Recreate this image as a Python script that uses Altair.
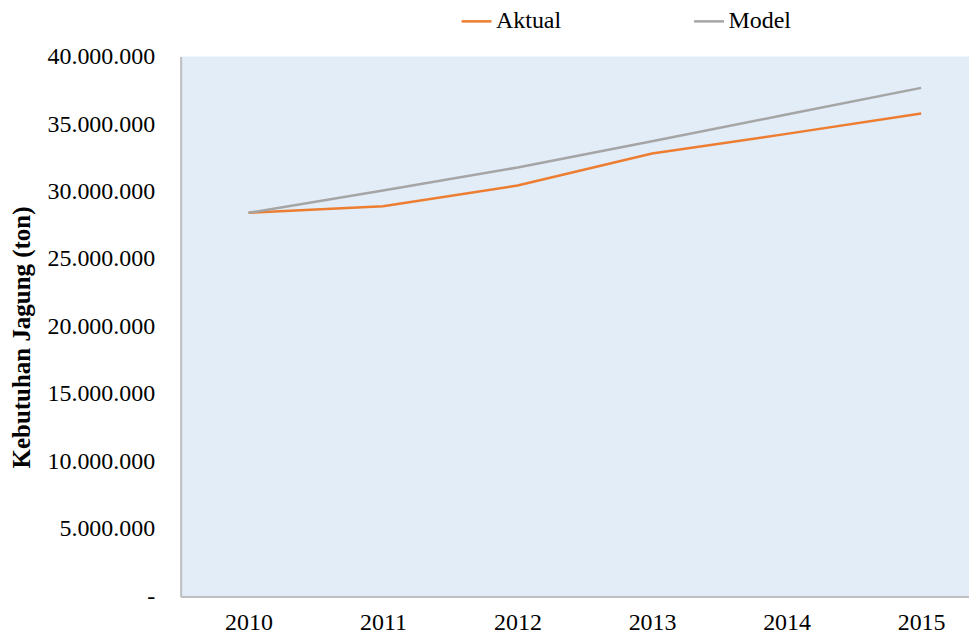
import altair as alt
import pandas as pd

years = [2010, 2011, 2012, 2013, 2014, 2015]
aktual = [28420000, 28910000, 30440000, 32810000, 34270000, 35780000]
model = [28420000, 30070000, 31780000, 33730000, 35700000, 37680000]
series_names = ["Aktual", "Model"]
series_colors = ["#ED7D31", "#A5A5A5"]
y_ticks = [0, 5000000, 10000000, 15000000, 20000000, 25000000, 30000000, 35000000, 40000000]

rows = []
for name, vals in zip(series_names, [aktual, model]):
    for yr, v in zip(years, vals):
        rows.append({"Tahun": yr, "Nilai": v, "Seri": name})
df = pd.DataFrame(rows)

FONT = "Liberation Serif"

chart = alt.Chart(df).mark_line(strokeWidth=2.5).encode(
    x=alt.X(
        "Tahun:Q",
        scale=alt.Scale(domain=[2009.4955, 2015.356], nice=False, zero=False),
        axis=alt.Axis(
            title=None,
            values=years,
            format="d",
            ticks=False,
            grid=False,
            labelFont=FONT,
            labelFontSize=24,
            labelColor="#000000",
            labelPadding=14,
            domainColor="#BFBFBF",
            domainWidth=2,
        ),
    ),
    y=alt.Y(
        "Nilai:Q",
        scale=alt.Scale(domain=[0, 40000000], nice=False),
        axis=alt.Axis(
            title="Kebutuhan Jagung (ton)",
            values=y_ticks,
            labelExpr="datum.value == 0 ? '-' : format(datum.value / 1000000, 'd') + '.000.000'",
            ticks=False,
            grid=False,
            labelFont=FONT,
            labelFontSize=24,
            labelColor="#000000",
            labelPadding=26,
            domainColor="#BFBFBF",
            domainWidth=2,
            titleFont=FONT,
            titleFontSize=25,
            titleFontWeight="bold",
            titleColor="#000000",
            titleAngle=270,
            titleBaseline="middle",
            titleX=-159,
            titleY=281,
        ),
    ),
    color=alt.Color(
        "Seri:N",
        scale=alt.Scale(domain=series_names, range=series_colors),
        legend=alt.Legend(
            title=None,
            orient="none",
            direction="horizontal",
            legendX=280,
            legendY=-52,
            padding=0,
            symbolType="stroke",
            symbolSize=900,
            symbolStrokeWidth=2.5,
            labelOffset=3,
            columnPadding=127,
            labelFont=FONT,
            labelFontSize=24,
            labelColor="#000000",
        ),
    ),
).properties(
    width=790,
    height=541,
    background="#FFFFFF",
    autosize=alt.AutoSizeParams(type="none"),
    padding={"left": 173, "top": 48, "right": 0, "bottom": 40},
).configure_view(
    fill="#E2EDF8",
    strokeWidth=0,
)

chart.save("out.html", embed_options={"renderer": "svg", "actions": False})
